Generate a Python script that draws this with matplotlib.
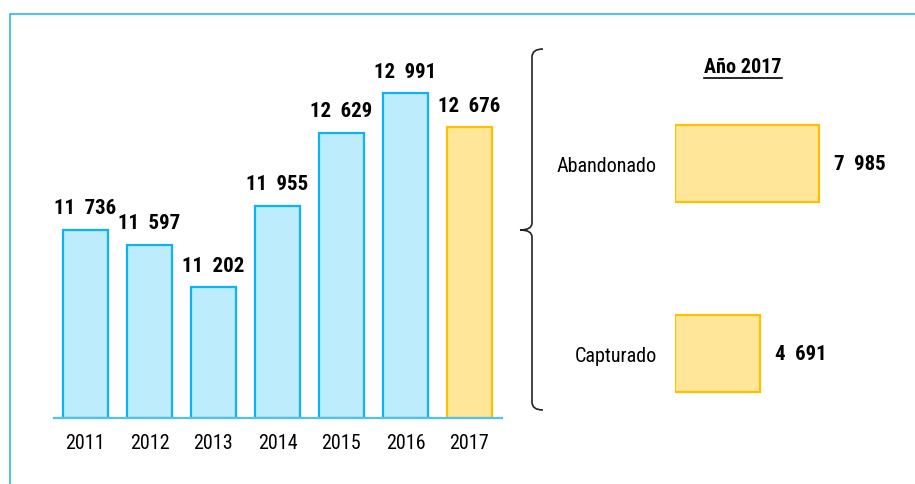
import matplotlib
matplotlib.use("Agg")
import matplotlib.pyplot as plt
from matplotlib.patches import Rectangle
from matplotlib.lines import Line2D
from matplotlib.path import Path
from matplotlib.patches import PathPatch

plt.rcParams['font.family'] = ['Roboto Condensed', 'Liberation Sans', 'DejaVu Sans']

# datos
years = ['2011', '2012', '2013', '2014', '2015', '2016', '2017']
totals = [11736, 11597, 11202, 11955, 12629, 12991, 12676]
total_labels = ['11  736', '11  597', '11  202', '11  955', '12  629', '12  991', '12  676']

status = ['Capturado', 'Abandonado']
status_vals = [4691, 7985]
status_labels = ['4  691', '7  985']
panel_title = 'Año 2017'

BLUE_FILL = '#BDECFC'
BLUE_EDGE = '#0DB4EE'
YEL_FILL = '#FFE699'
YEL_EDGE = '#FFC000'

W, H = 915, 485
fig = plt.figure(figsize=(W / 100, H / 100), dpi=100)


def px(x0, y0, x1, y1):
    # rect en pixeles (origen arriba-izq) -> fracciones de figura
    return [x0 / W, 1 - y1 / H, (x1 - x0) / W, (y1 - y0) / H]


# --- barras por año ---
ax = fig.add_axes(px(53.5, 39, 501.5, 419))
xpos = range(len(years))
fills = [BLUE_FILL] * 6 + [YEL_FILL]
edges = [BLUE_EDGE] * 6 + [YEL_EDGE]
ax.bar(xpos, [v - 10000 for v in totals], bottom=10000, width=0.7,
       color=fills, edgecolor=edges, linewidth=1.6, zorder=2)
ax.set_xlim(-0.5, 6.5)
ax.set_ylim(10000, 13500)
for i, (v, lab) in enumerate(zip(totals, total_labels)):
    ax.annotate(lab, (i, v), xytext=(0, 9), textcoords='offset points',
                ha='center', va='bottom', fontsize=15, fontweight='bold')
ax.set_xticks(list(xpos))
ax.set_xticklabels(years, fontsize=14.5)
ax.tick_params(axis='x', length=0, pad=11)
ax.set_yticks([])
for s in ['top', 'right', 'left']:
    ax.spines[s].set_visible(False)
ax.spines['bottom'].set_color('#4FC3F0')
ax.spines['bottom'].set_linewidth(1.6)

# --- panel 2017 ---
ax2 = fig.add_axes(px(675, 50, 900.4, 410))
ax2.barh([0, 1], status_vals, height=0.405, color=YEL_FILL,
         edgecolor=YEL_EDGE, linewidth=1.6)
ax2.set_xlim(0, 12500)
ax2.set_ylim(-0.292, 1.603)
for i, (v, lab) in enumerate(zip(status_vals, status_labels)):
    ax2.annotate(lab, (v, i), xytext=(11, 0), textcoords='offset points',
                 ha='left', va='center', fontsize=15, fontweight='bold')
ax2.set_yticks([0, 1])
ax2.set_yticklabels(status, fontsize=14.5)
ax2.tick_params(axis='y', length=0, pad=13)
ax2.set_xticks([])
for s in ax2.spines.values():
    s.set_visible(False)

t = fig.text(743 / W, 1 - 68 / H, panel_title, ha='center', va='center',
             fontsize=14.5, fontweight='bold')
fig.canvas.draw()
bb = t.get_window_extent()
fig.add_artist(Line2D([bb.x0 / W, bb.x1 / W], [(bb.y0 - 1) / H, (bb.y0 - 1) / H],
                      color='black', linewidth=1.2))

# llave
verts = [(543, 50), (532, 50), (532, 58), (532, 224), (532, 231), (520, 231),
         (532, 231), (532, 238), (532, 403), (532, 411), (543, 411)]
codes = [Path.MOVETO, Path.CURVE3, Path.CURVE3, Path.LINETO, Path.CURVE3, Path.CURVE3,
         Path.CURVE3, Path.CURVE3, Path.LINETO, Path.CURVE3, Path.CURVE3]
verts = [(x / W, 1 - y / H) for x, y in verts]
fig.add_artist(PathPatch(Path(verts, codes), fill=False, edgecolor='#222222',
                         linewidth=1.2, transform=fig.transFigure))

# marco
fig.add_artist(Rectangle((9.5 / W, 1 - 495 / H), 930 / W, 480.5 / H, fill=False,
                         edgecolor='#2DB7EE', linewidth=1.2, transform=fig.transFigure))

fig.savefig('out.png', dpi=100)
